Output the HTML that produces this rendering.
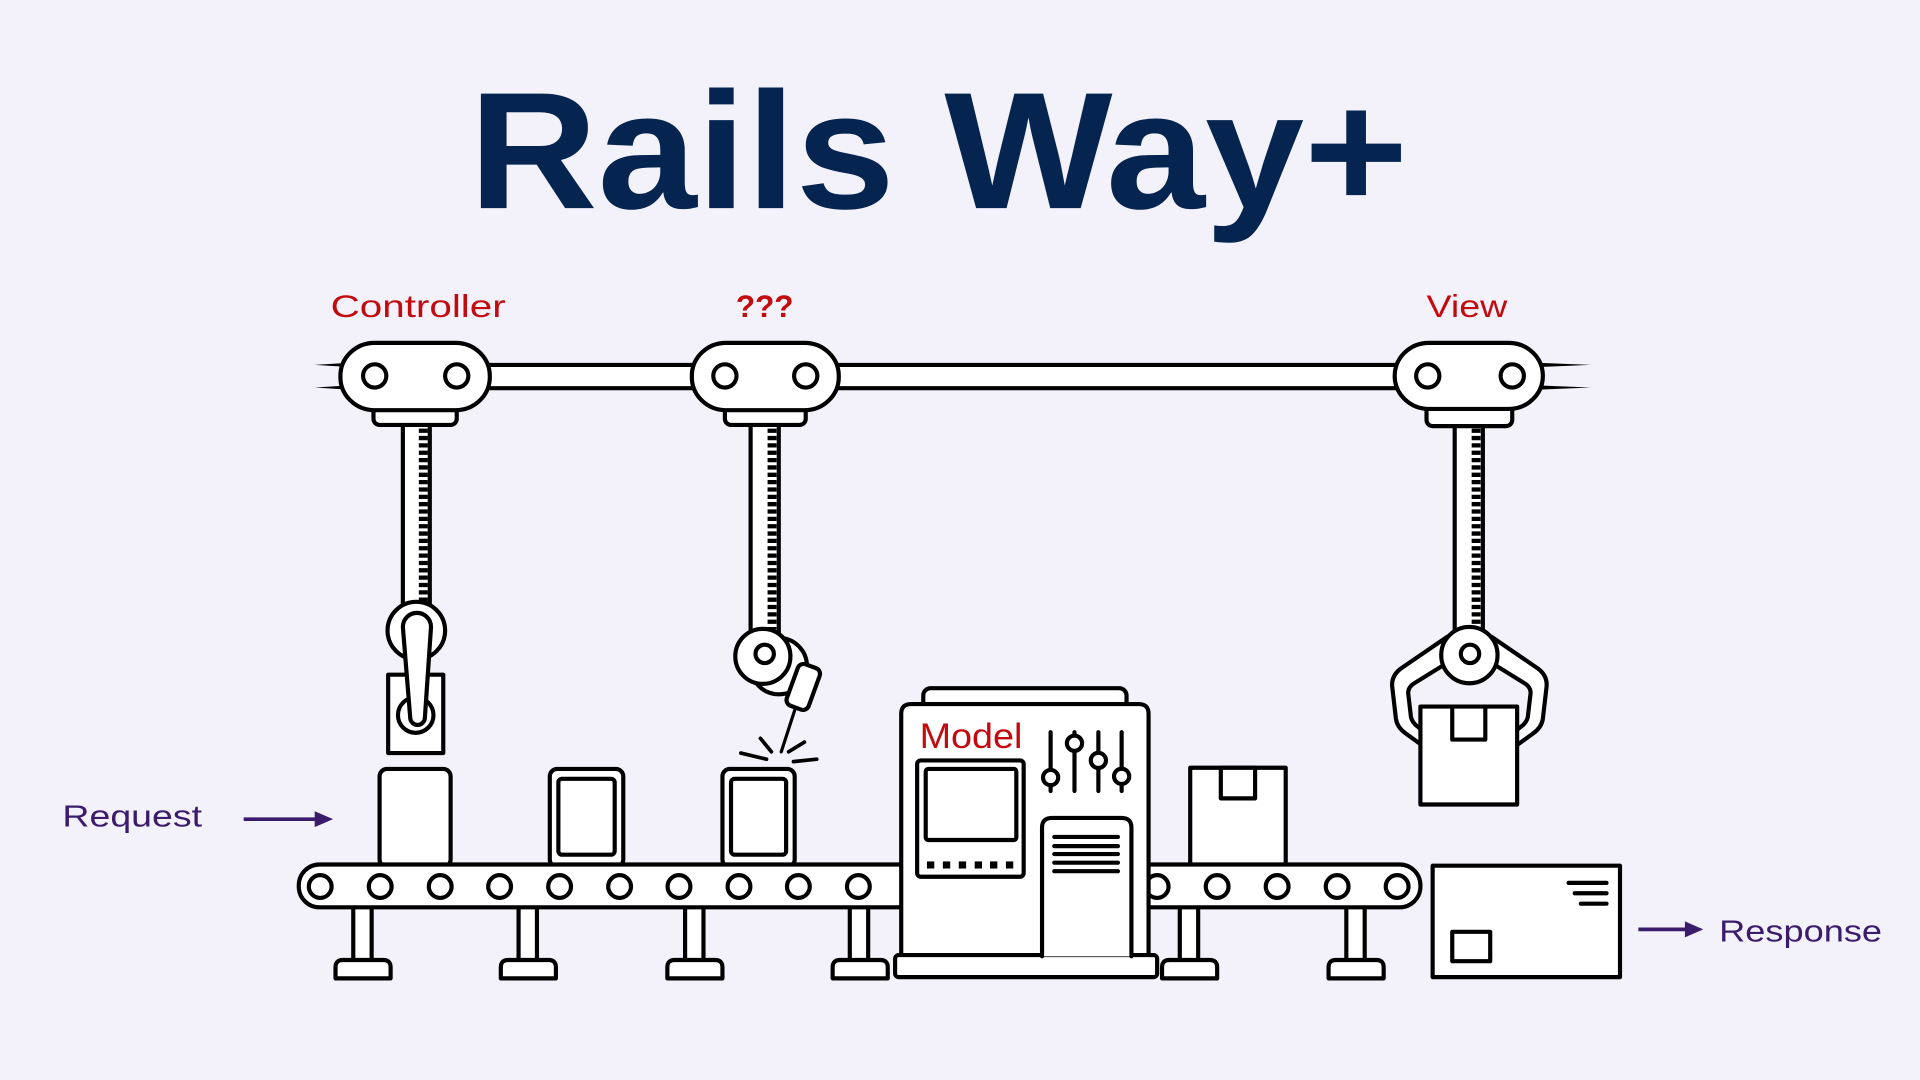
<!DOCTYPE html>
<html><head><meta charset="utf-8">
<style>
html,body{margin:0;padding:0;background:#f3f2fa;}
svg{display:block;}
</style></head>
<body>
<svg width="1920" height="1080" viewBox="0 0 1568 882" xmlns="http://www.w3.org/2000/svg">
<rect width="1568" height="882" fill="#f3f2fa"/>

<!-- Title -->
<text x="383" y="170" font-family="Liberation Sans, Arial, sans-serif" font-weight="bold" font-size="136" fill="#05244f" textLength="767" lengthAdjust="spacingAndGlyphs">Rails Way+</text>

<!-- Labels -->
<g font-family="Liberation Sans, Arial, sans-serif" fill="#c20a0f">
<text x="270" y="259" font-size="26" textLength="143" lengthAdjust="spacingAndGlyphs">Controller</text>
<text x="601" y="259" font-size="26" font-weight="bold" textLength="47" lengthAdjust="spacingAndGlyphs">???</text>
<text x="1165" y="259" font-size="26" textLength="66" lengthAdjust="spacingAndGlyphs">View</text>
</g>

<g stroke="#000" stroke-width="3.4" fill="#fff" stroke-linejoin="round" stroke-linecap="round">

<!-- rail end lines -->
<g stroke="none" fill="#000">
<polygon points="257,298 286,296.2 286,299.8"/>
<polygon points="257,316.5 286,314.7 286,318.3"/>
<polygon points="1299,298 1255,296.2 1255,299.8"/>
<polygon points="1299,316.5 1255,314.7 1255,318.3"/>
</g>
<!-- rail bar -->
<rect x="390" y="298" width="760" height="19"/>

<!-- racks -->
<rect x="329" y="345" width="22" height="152"/>
<line x1="345.7" y1="350" x2="345.7" y2="494" stroke-width="7.3" stroke-linecap="butt" stroke-dasharray="3.5 2.5"/>
<rect x="613" y="345" width="23" height="172"/>
<line x1="630.5" y1="350" x2="630.5" y2="514" stroke-width="7.3" stroke-linecap="butt" stroke-dasharray="3.5 2.5"/>
<rect x="1188" y="345" width="23" height="170"/>
<line x1="1205.5" y1="350" x2="1205.5" y2="512" stroke-width="7.3" stroke-linecap="butt" stroke-dasharray="3.5 2.5"/>

<!-- tabs -->
<rect x="305" y="328" width="68" height="19" rx="5"/>
<rect x="592" y="328" width="66" height="19" rx="5"/>
<rect x="1165" y="328" width="70" height="20" rx="5"/>

<!-- pods -->
<rect x="278" y="280" width="122" height="55" rx="28" ry="27"/>
<circle cx="306" cy="307" r="9.5"/>
<circle cx="373" cy="307" r="9.5"/>
<rect x="565" y="280" width="120" height="55" rx="28" ry="27"/>
<circle cx="592" cy="307" r="9.5"/>
<circle cx="658" cy="307" r="9.5"/>
<rect x="1139" y="280" width="121" height="54" rx="28" ry="27"/>
<circle cx="1166" cy="307" r="9.5"/>
<circle cx="1235" cy="307" r="9.5"/>

<!-- Controller gripper -->
<rect x="317" y="551" width="45" height="64"/>
<circle cx="339.5" cy="584" r="14.5"/>
<circle cx="340" cy="515" r="23.5"/>
<path d="M329 512 A11.5 11.5 0 0 1 352 512 L347 586 A6 6 0 0 1 335 586 Z"/>

<!-- ??? welding gripper -->
<circle cx="636" cy="544" r="23"/>
<rect x="-9.5" y="-18" width="19" height="36" rx="5" transform="translate(656,561) rotate(20)"/>
<circle cx="623" cy="536" r="22.5"/>
<circle cx="624.5" cy="534" r="7.5"/>
<line x1="649" y1="580" x2="638" y2="614" stroke-width="2.6"/>
<line x1="605" y1="615" x2="626" y2="620" stroke-width="3"/>
<line x1="621" y1="603" x2="630" y2="614" stroke-width="3"/>
<line x1="644" y1="614" x2="657" y2="606" stroke-width="3"/>
<line x1="648" y1="622" x2="667" y2="620" stroke-width="3"/>

<!-- View claw -->
<path id="arm" d="M1182 520 L1144 546 Q1136 552 1137 561 L1140 587 Q1141 594 1148 599 L1166 612 L1166 600 L1156 592 Q1152 588 1152 583 L1150 566 Q1150 561 1155 558 L1184 540 Z"/>
<path d="M1182 520 L1144 546 Q1136 552 1137 561 L1140 587 Q1141 594 1148 599 L1166 612 L1166 600 L1156 592 Q1152 588 1152 583 L1150 566 Q1150 561 1155 558 L1184 540 Z" transform="translate(2400,0) scale(-1,1)"/>
<rect x="1160" y="577" width="79" height="80"/>
<rect x="1186" y="577" width="27" height="27"/>
<circle cx="1200" cy="535" r="23"/>
<circle cx="1200.5" cy="534" r="7.5"/>

<!-- boxes on conveyor -->
<rect x="310" y="628" width="58" height="80" rx="6"/>
<rect x="449" y="628" width="60" height="80" rx="6"/>
<rect x="456" y="636" width="46" height="62" rx="3"/>
<rect x="590" y="628" width="59" height="80" rx="6"/>
<rect x="597" y="636" width="45" height="62" rx="3"/>
<rect x="972" y="627" width="78" height="81"/>
<rect x="997" y="627" width="28" height="25"/>

<!-- legs -->
<g>
<rect x="288.5" y="740" width="15" height="45"/>
<path d="M274 799 L274 790 Q274 784 280 784 L313 784 Q319 784 319 790 L319 799 Z"/>
<rect x="423.5" y="740" width="15" height="45"/>
<path d="M409 799 L409 790 Q409 784 415 784 L448 784 Q454 784 454 790 L454 799 Z"/>
<rect x="559.5" y="740" width="15" height="45"/>
<path d="M545 799 L545 790 Q545 784 551 784 L584 784 Q590 784 590 790 L590 799 Z"/>
<rect x="694" y="740" width="15" height="45"/>
<path d="M680 799 L680 790 Q680 784 686 784 L719 784 Q725 784 725 790 L725 799 Z"/>
<rect x="963.5" y="740" width="15" height="45"/>
<path d="M949 799 L949 790 Q949 784 955 784 L988 784 Q994 784 994 790 L994 799 Z"/>
<rect x="1099.5" y="740" width="15" height="45"/>
<path d="M1085 799 L1085 790 Q1085 784 1091 784 L1124 784 Q1130 784 1130 790 L1130 799 Z"/>
</g>

<!-- belt -->
<rect x="244" y="706" width="916" height="35" rx="17"/>
<g>
<circle cx="261.5" cy="724" r="9.3"/>
<circle cx="310.5" cy="724" r="9.3"/>
<circle cx="359.5" cy="724" r="9.3"/>
<circle cx="408" cy="724" r="9.3"/>
<circle cx="457" cy="724" r="9.3"/>
<circle cx="506" cy="724" r="9.3"/>
<circle cx="554.5" cy="724" r="9.3"/>
<circle cx="603.5" cy="724" r="9.3"/>
<circle cx="652" cy="724" r="9.3"/>
<circle cx="701" cy="724" r="9.3"/>
<circle cx="945" cy="724" r="9.3"/>
<circle cx="994" cy="724" r="9.3"/>
<circle cx="1043" cy="724" r="9.3"/>
<circle cx="1092" cy="724" r="9.3"/>
<circle cx="1141" cy="724" r="9.3"/>
</g>

<!-- Model machine -->
<rect x="754" y="562" width="166" height="20" rx="6"/>
<path d="M736 781 L736 583 Q736 575 744 575 L930 575 Q938 575 938 583 L938 781 Z"/>
<rect x="731" y="780" width="214" height="18" rx="3"/>
<rect x="749" y="621" width="87" height="95" rx="3"/>
<rect x="756" y="628" width="74" height="58" rx="2"/>
<g stroke="none" fill="#000">
<rect x="757" y="703.5" width="6" height="5.8"/>
<rect x="770" y="703.5" width="6" height="5.8"/>
<rect x="783" y="703.5" width="6" height="5.8"/>
<rect x="796" y="703.5" width="6" height="5.8"/>
<rect x="808.5" y="703.5" width="6" height="5.8"/>
<rect x="821.5" y="703.5" width="6" height="5.8"/>
</g>
<line x1="858" y1="598" x2="858" y2="646"/>
<line x1="877.5" y1="598" x2="877.5" y2="646"/>
<line x1="897" y1="598" x2="897" y2="646"/>
<line x1="916" y1="598" x2="916" y2="646"/>
<circle cx="858" cy="635" r="6.2"/>
<circle cx="877.5" cy="607" r="6.2"/>
<circle cx="897" cy="621" r="6.2"/>
<circle cx="916" cy="634" r="6.2"/>
<path d="M851 781 L851 676 Q851 668 859 668 L916 668 Q924 668 924 676 L924 781"/>
<line x1="861" y1="683.5" x2="913" y2="683.5"/>
<line x1="861" y1="691" x2="913" y2="691"/>
<line x1="861" y1="697.5" x2="913" y2="697.5"/>
<line x1="861" y1="704.5" x2="913" y2="704.5"/>
<line x1="861" y1="711.5" x2="913" y2="711.5"/>

<!-- Envelope -->
<rect x="1170" y="707" width="153" height="91"/>
<rect x="1186" y="761" width="31" height="24"/>
<line x1="1281" y1="721" x2="1312" y2="721"/>
<line x1="1286" y1="729.5" x2="1312" y2="729.5"/>
<line x1="1291" y1="738" x2="1312" y2="738"/>
</g>

<text x="751" y="611" font-family="Liberation Sans, Arial, sans-serif" font-size="29" fill="#c20a0f" textLength="84" lengthAdjust="spacingAndGlyphs">Model</text>

<!-- Request / Response -->
<g fill="#3b1c6c" stroke="#3b1c6c">
<line x1="199" y1="669" x2="259" y2="669" stroke-width="3"/>
<polygon points="257,662.5 272,669 257,675.5" stroke="none"/>
<line x1="1338" y1="759" x2="1378" y2="759" stroke-width="3"/>
<polygon points="1376,752.5 1391,759 1376,765.5" stroke="none"/>
</g>
<g font-family="Liberation Sans, Arial, sans-serif" fill="#3b1c6c" font-size="25">
<text x="51" y="675" textLength="114" lengthAdjust="spacingAndGlyphs">Request</text>
<text x="1404" y="769" textLength="133" lengthAdjust="spacingAndGlyphs">Response</text>
</g>
</svg>
</body></html>
